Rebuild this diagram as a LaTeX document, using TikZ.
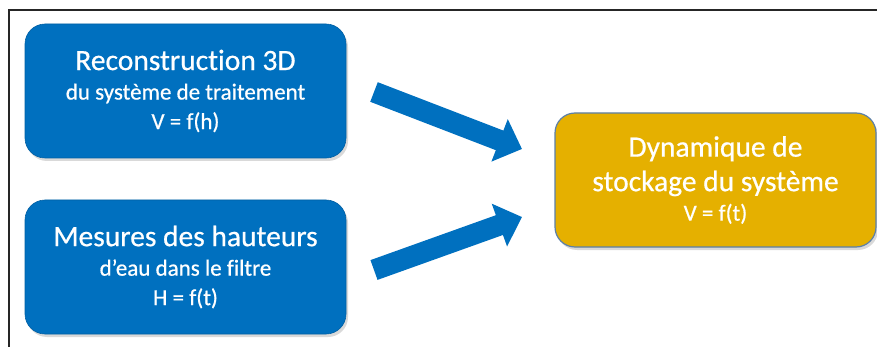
\documentclass[tikz,border=0pt]{standalone}
\usepackage{fontspec}
\setmainfont{Carlito}[FakeBold=0.6,Ligatures=NoCommon]
\usepackage{tikz}
\usetikzlibrary{calc}
\usetikzlibrary{arrows.meta}
\usetikzlibrary{shadows}
\definecolor{qqttcc}{rgb}{0.,0.44,0.75}
\definecolor{eebbqq}{rgb}{0.9,0.69,0.}
\definecolor{bordgray}{rgb}{0.36,0.5,0.66}
\tikzset{
  bluebox/.style={draw=qqttcc!85!black,line width=0.6pt,fill=qqttcc,rounded corners=20pt,
    minimum width=321pt,minimum height=134pt,text=white,align=center,
    drop shadow={shadow xshift=2pt,shadow yshift=-3pt,opacity=0.3}},
  goldbox/.style={bluebox,draw=bordgray,line width=1.2pt,fill=eebbqq},
  bigarrow/.style={line width=21pt,draw=qqttcc,-{Triangle[length=24pt,width=44pt]}}
}
\newcommand{\titre}{\fontsize{29.5}{29.5}\selectfont}
\newcommand{\sous}{\fontsize{23}{23}\selectfont}
\begin{document}
\begin{tikzpicture}[line cap=butt,line join=miter,x=1pt,y=-1pt]
\useasboundingbox (0,0) rectangle (877,347);
\draw [line width=1.5pt,color=black!85] (9,347) -- (9,10) -- (877,10);
% boites
\node [bluebox,font=\titre] (recon) at (185.5,91) {Reconstruction 3D\\{\sous du système de traitement}\\{\sous V = f(h)}};
\node [bluebox,font=\titre] (mesures) at (185.5,267) {Mesures des hauteurs\\{\sous d’eau dans le filtre}\\{\sous H = f(t)}};
\node [goldbox,font=\titre] (dyn) at (715.5,180) {Dynamique de\\[5pt]stockage du système\\{\sous V = f(t)}};
% fleches
\coordinate (a1) at (374,92);
\coordinate (b1) at (522,149);
\coordinate (a2) at (374,270);
\coordinate (b2) at (522,217);
\draw [bigarrow] (a1) -- (b1);
\draw [bigarrow] (a2) -- (b2);
\end{tikzpicture}
\end{document}
